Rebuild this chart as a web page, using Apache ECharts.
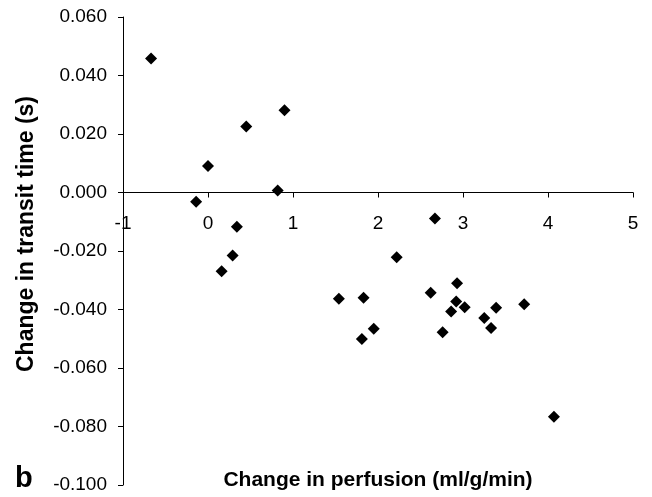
<!DOCTYPE html>
<html>
<head>
<meta charset="utf-8">
<script src="https://cdn.jsdelivr.net/npm/echarts@6/dist/echarts.min.js"></script>
<style>
html,body{margin:0;padding:0;background:#fff;}
#chart{width:652px;height:497px;}
</style>
</head>
<body>
<div id="chart"></div>
<script>
// Change in perfusion (ml/g/min)
var perfusionChange = [-0.67, -0.14, 0.00, 0.45, 0.90, 0.82, 0.34, 0.16, 0.29, 2.67,
  2.22, 1.54, 1.83, 1.95, 1.81, 2.62, 2.93, 2.92, 3.02, 2.86, 2.76, 3.25, 3.39, 3.33, 3.72, 4.07];
// Change in transit time (s)
var transitChange = [0.0458, -0.0032, 0.0091, 0.0226, 0.0281, 0.0007, -0.0117, -0.0269, -0.0215, -0.0089,
  -0.0221, -0.0363, -0.0360, -0.0466, -0.0501, -0.0343, -0.0310, -0.0373, -0.0392, -0.0407, -0.0478, -0.0429, -0.0394, -0.0463, -0.0382, -0.0767];

var xTitle = 'Change in perfusion (ml/g/min)';
var yTitle = 'Change in transit time (s)';
var panelLabel = 'b';

var points = perfusionChange.map(function (x, i) { return [x, transitChange[i]]; });

var chart = echarts.init(document.getElementById('chart'));
var FONT = '"Liberation Sans", Arial, sans-serif';
chart.setOption({
  animation: false,
  backgroundColor: '#fff',
  grid: { left: 123, right: 19, top: 17, bottom: 12, containLabel: false, outerBoundsMode: 'none' },
  xAxis: {
    type: 'value', min: -1, max: 5, interval: 1,
    name: xTitle, nameLocation: 'middle', nameGap: -15,
    nameTextStyle: { fontFamily: FONT, fontWeight: 'bold', fontSize: 21, color: '#000' },
    axisLine: { onZero: true, lineStyle: { color: '#000', width: 1 } },
    axisTick: { show: true, inside: false, length: 5, lineStyle: { color: '#000' } },
    axisLabel: { fontFamily: FONT, fontSize: 19, color: '#000', margin: -271, verticalAlign: 'top' },
    splitLine: { show: false }
  },
  yAxis: {
    type: 'value', min: -0.1, max: 0.06, interval: 0.02,
    name: yTitle, nameLocation: 'middle', nameGap: 85, nameRotate: 90,
    nameTextStyle: { fontFamily: FONT, fontWeight: 'bold', fontSize: 23, color: '#000', padding: [0, 0, 0, 34] },
    axisLine: { onZero: false, lineStyle: { color: '#000', width: 1 } },
    axisTick: { show: true, inside: false, length: 5, lineStyle: { color: '#000' } },
    axisLabel: { fontFamily: FONT, fontSize: 19, color: '#000', margin: 16,
      formatter: function (v) { return v.toFixed(3); } },
    splitLine: { show: false }
  },
  graphic: [{
    type: 'text', left: 15, top: 464,
    style: { text: panelLabel, font: 'bold 29px "Liberation Sans", Arial, sans-serif', fill: '#000' }
  }],
  series: [{
    type: 'scatter',
    data: points,
    symbol: 'diamond',
    symbolSize: 12,
    itemStyle: { color: '#000', opacity: 1 }
  }]
});
</script>
</body>
</html>
